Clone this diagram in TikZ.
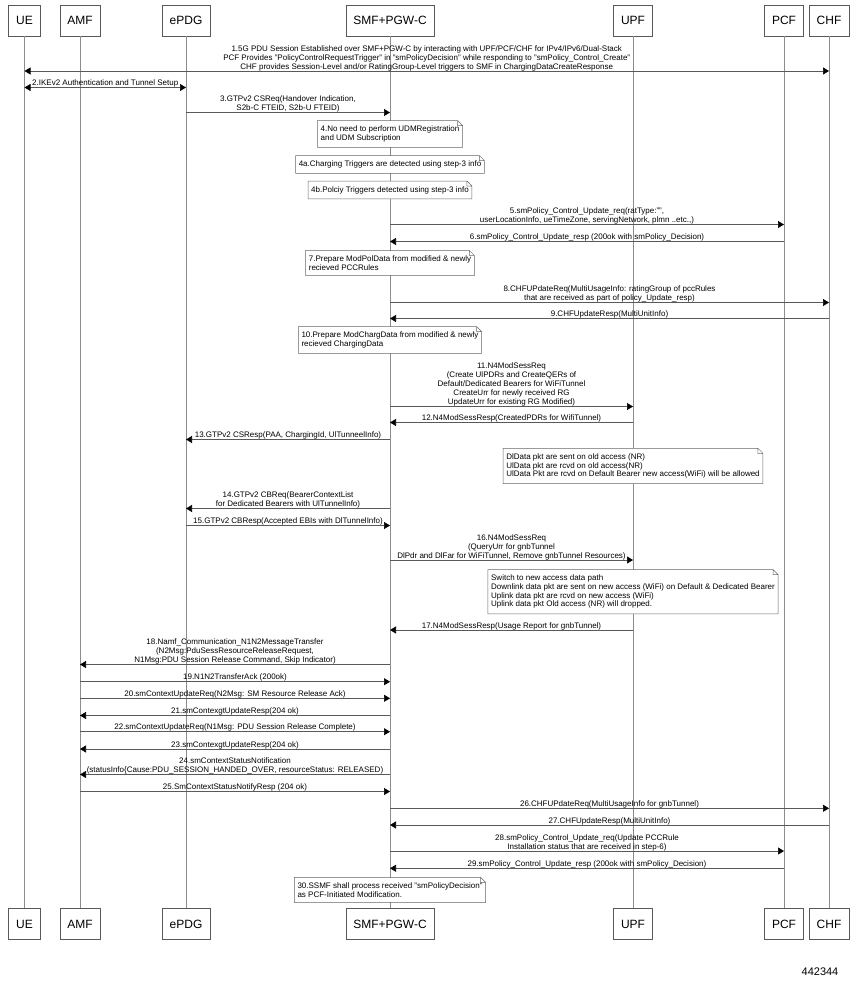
\documentclass[tikz,border=0pt]{standalone}
\usepackage{fontspec}
\setmainfont{Liberation Sans}
\usetikzlibrary{arrows.meta,positioning,calc}

\begin{document}
\begin{tikzpicture}[
  x=1pt, y=-1pt,
  actor/.style={draw=black!65, line width=0.5pt, minimum height=31pt,
                inner xsep=7.5pt, font=\fontsize{12}{14}\selectfont, fill=white},
  life/.style={draw=black!45, line width=0.5pt},
  msg/.style={-{Triangle[length=6pt,width=7pt,color=black]}, draw=black!65, line width=0.6pt},
  both/.style={{Triangle[length=6pt,width=7pt,color=black]}-{Triangle[length=6pt,width=7pt,color=black]},
               draw=black!65, line width=0.6pt},
  lbl/.style={anchor=south, inner sep=0pt, text depth=1.5pt, align=center,
              font=\fontsize{8}{9}\selectfont},
  note/.style={fill=white, inner xsep=3pt, inner ysep=5pt, align=left,
               font=\fontsize{8}{8.8}\selectfont},
  fold/.style={draw=black!60, line width=0.5pt}
]
  \useasboundingbox (0,0) rectangle (854,998);

  % lifeline heads
  \node[actor] (ue)   at (24.5,20.5) {UE};
  \node[actor] (amf)  at (80,20.5)   {AMF};
  \node[actor] (epdg) at (186,20.5)  {ePDG};
  \node[actor] (smf)  at (390,20.5)  {SMF+PGW-C};
  \node[actor] (upf)  at (633,20.5)  {UPF};
  \node[actor] (pcf)  at (784,20.5)  {PCF};
  \node[actor] (chf)  at (829,20.5)  {CHF};

  % lifeline feet
  \node[actor] (ue-f)   at (24.5,924) {UE};
  \node[actor] (amf-f)  at (80,924)   {AMF};
  \node[actor] (epdg-f) at (186,924)  {ePDG};
  \node[actor] (smf-f)  at (390,924)  {SMF+PGW-C};
  \node[actor] (upf-f)  at (633,924)  {UPF};
  \node[actor] (pcf-f)  at (784,924)  {PCF};
  \node[actor] (chf-f)  at (829,924)  {CHF};

  \foreach \a in {ue,amf,epdg,smf,upf,pcf,chf}
    \draw[life] (\a.south) -- (\a-f.north);

  % messages
  \draw[both] (ue |- 0,71) -- node[lbl] {1.5G PDU Session Established over SMF+PGW-C by interacting with UPF/PCF/CHF for IPv4/IPv6/Dual-Stack\\PCF Provides "PolicyControlRequestTrigger" in "smPolicyDecision" while responding to "smPolicy\_Control\_Create"\\CHF provides Session-Level and/or RatingGroup-Level triggers to SMF in ChargingDataCreateResponse} (chf |- 0,71);
  \draw[both] (ue |- 0,87.5) -- node[lbl] {2.IKEv2 Authentication and Tunnel Setup} (epdg |- 0,87.5);
  \draw[msg] (epdg |- 0,112.5) -- node[lbl] {3.GTPv2 CSReq(Handover Indication,\\S2b-C FTEID, S2b-U FTEID)} (smf |- 0,112.5);

  \node[note] (n4)  at (smf |- 0,134) {4.No need to perform UDMRegistration\\and UDM Subscription};
  \node[note] (n4a) at (smf |- 0,164.5) {4a.Charging Triggers are detected using step-3 info};
  \node[note] (n4b) at (smf |- 0,190) {4b.Polciy Triggers detected using step-3 info};

  \draw[msg] (smf |- 0,224.5) -- node[lbl] {5.smPolicy\_Control\_Update\_req(ratType:"",\\userLocationInfo, ueTimeZone, servingNetwork, plmn ..etc.,)} (pcf |- 0,224.5);
  \draw[msg] (pcf |- 0,241.5) -- node[lbl] {6.smPolicy\_Control\_Update\_resp (200ok with smPolicy\_Decision)} (smf |- 0,241.5);

  \node[note] (n7) at (smf |- 0,263) {7.Prepare ModPolData from modified \& newly\\recieved PCCRules};

  \draw[msg] (smf |- 0,302.5) -- node[lbl] {8.CHFUPdateReq(MultiUsageInfo: ratingGroup of pccRules\\that are received as part of policy\_Update\_resp)} (chf |- 0,302.5);
  \draw[msg] (chf |- 0,318.5) -- node[lbl] {9.CHFUpdateResp(MultiUnitInfo)} (smf |- 0,318.5);

  \node[note] (n10) at (smf |- 0,340) {10.Prepare ModChargData from modified \& newly\\recieved ChargingData};

  \draw[msg] (smf |- 0,406.5) -- node[lbl] {11.N4ModSessReq\\(Create UlPDRs and CreateQERs of\\Default/Dedicated Bearers for WiFiTunnel\\CreateUrr for newly received RG\\UpdateUrr for existing RG Modified)} (upf |- 0,406.5);
  \draw[msg] (upf |- 0,422.5) -- node[lbl] {12.N4ModSessResp(CreatedPDRs for WifiTunnel)} (smf |- 0,422.5);
  \draw[msg] (smf |- 0,439.5) -- node[lbl] {13.GTPv2 CSResp(PAA, ChargingId, UlTunneelInfo)} (epdg |- 0,439.5);

  \node[note] (ndl) at (upf |- 0,466) {DlData pkt are sent on old access (NR)\\UlData pkt are rcvd on old access(NR)\\UlData Pkt are rcvd on Default Bearer new access(WiFi) will be allowed};

  \draw[msg] (smf |- 0,508.5) -- node[lbl] {14.GTPv2 CBReq(BearerContextList\\for Dedicated Bearers with UlTunnelInfo)} (epdg |- 0,508.5);
  \draw[msg] (epdg |- 0,525.5) -- node[lbl] {15.GTPv2 CBResp(Accepted EBIs with DlTunnelInfo)} (smf |- 0,525.5);
  \draw[msg] (smf |- 0,560) -- node[lbl] {16.N4ModSessReq\\(QueryUrr for gnbTunnel\\DlPdr and DlFar for WiFiTunnel, Remove gnbTunnel Resources)} (upf |- 0,560);

  \node[note] (nsw) at (upf |- 0,591.7) {Switch to new access data path\\Downlink data pkt are sent on new access (WiFi) on Default \& Dedicated Bearer\\Uplink data pkt are rcvd on new access (WiFi)\\Uplink data pkt Old access (NR) will dropped.};

  \draw[msg] (upf |- 0,630) -- node[lbl] {17.N4ModSessResp(Usage Report for gnbTunnel)} (smf |- 0,630);
  \draw[msg] (smf |- 0,664.5) -- node[lbl] {18.Namf\_Communication\_N1N2MessageTransfer\\(N2Msg:PduSessResourceReleaseRequest,\\N1Msg:PDU Session Release Command, Skip Indicator)} (amf |- 0,664.5);
  \draw[msg] (amf |- 0,681.7) -- node[lbl] {19.N1N2TransferAck (200ok)} (smf |- 0,681.7);
  \draw[msg] (amf |- 0,698.3) -- node[lbl] {20.smContextUpdateReq(N2Msg: SM Resource Release Ack)} (smf |- 0,698.3);
  \draw[msg] (smf |- 0,715.5) -- node[lbl] {21.smContexgtUpdateResp(204 ok)} (amf |- 0,715.5);
  \draw[msg] (amf |- 0,731.7) -- node[lbl] {22.smContextUpdateReq(N1Msg: PDU Session Release Complete)} (smf |- 0,731.7);
  \draw[msg] (smf |- 0,749) -- node[lbl] {23.smContexgtUpdateResp(204 ok)} (amf |- 0,749);
  \draw[msg] (smf |- 0,774.5) -- node[lbl] {24.smContextStatusNotification\\(statusInfo\{Cause:PDU\_SESSION\_HANDED\_OVER, resourceStatus: RELEASED)} (amf |- 0,774.5);
  \draw[msg] (amf |- 0,791.5) -- node[lbl] {25.SmContextStatusNotifyResp (204 ok)} (smf |- 0,791.5);
  \draw[msg] (smf |- 0,808.3) -- node[lbl] {26.CHFUPdateReq(MultiUsageInfo for gnbTunnel)} (chf |- 0,808.3);
  \draw[msg] (chf |- 0,825) -- node[lbl] {27.CHFUpdateResp(MultiUnitInfo)} (smf |- 0,825);
  \draw[msg] (smf |- 0,851) -- node[lbl] {28.smPolicy\_Control\_Update\_req(Update PCCRule\\Installation status that are received in step-6)} (pcf |- 0,851);
  \draw[msg] (pcf |- 0,868.3) -- node[lbl] {29.smPolicy\_Control\_Update\_resp (200ok with smPolicy\_Decision)} (smf |- 0,868.3);

  \node[note] (n30) at (smf |- 0,890) {30.SSMF shall process received "smPolicyDecision"\\as PCF-Initiated Modification.};

  % note outlines with folded corner
  \foreach \n in {n4,n4a,n4b,n7,n10,ndl,nsw,n30}
    \draw[fold] (\n.south west) |- ([xshift=-5pt]\n.north east) -- ([yshift=-5pt]\n.north east) |- (\n.south west)
                ([xshift=-5pt]\n.north east) |- ([yshift=-5pt]\n.north east);

  \node[font=\fontsize{11}{13}\selectfont] (figid) at (820,972) {442344};
\end{tikzpicture}
\end{document}
